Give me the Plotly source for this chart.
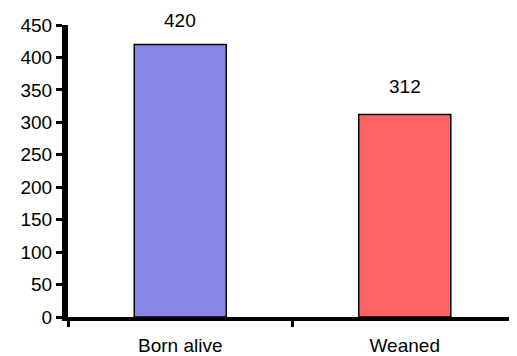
import plotly.graph_objects as go

categories = ["Born alive", "Weaned"]
values = [420, 312]
bar_colors = ["#8686e6", "#ff6262"]
y_ticks = [0, 50, 100, 150, 200, 250, 300, 350, 400, 450]

FONT = "Liberation Sans, Arial"

fig = go.Figure()
for c, v, col in zip(categories, values, bar_colors):
    fig.add_trace(go.Bar(
        x=[c], y=[v],
        marker=dict(color=col, line=dict(color="black", width=1.5)),
        width=0.41, showlegend=False,
    ))
    fig.add_annotation(x=c, y=v, text=str(v), showarrow=False, yshift=24 if v > 400 else 28,
                       font=dict(family=FONT, size=19, color="black"))

fig.update_layout(
    width=509, height=348,
    margin=dict(l=60, r=0, t=17, b=39, autoexpand=False),
    paper_bgcolor="white", plot_bgcolor="white",
    font=dict(family=FONT, size=19, color="black"),
    barmode="overlay",
)
fig.update_xaxes(
    type="category", categoryorder="array", categoryarray=categories,
    showline=True, linecolor="black", linewidth=4, automargin=False,
    ticks="outside", tickson="boundaries", ticklen=6, tickwidth=3, tickcolor="black",
    ticklabelstandoff=8, showgrid=False, zeroline=False, range=[-0.5, 1.5],
)
fig.update_yaxes(
    range=[0, 450], tickvals=y_ticks, automargin=False,
    showline=True, linecolor="#000000", linewidth=6,
    ticks="outside", ticklen=6, tickwidth=3, tickcolor="black",
    showgrid=False, zeroline=False,
)
fig.write_html("out.html")
